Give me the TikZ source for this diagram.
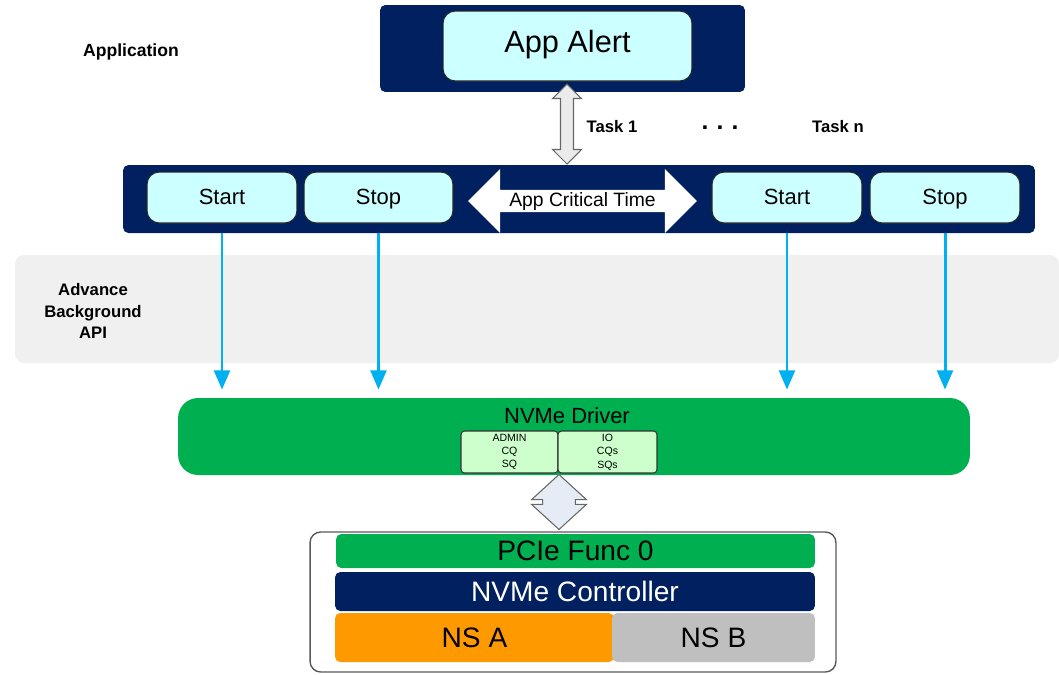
\documentclass[tikz,border=0pt]{standalone}
\usepackage{fontspec}
\setmainfont{Liberation Sans}
\setsansfont{Liberation Sans}
\usetikzlibrary{positioning, arrows.meta, shapes.arrows}
\definecolor{nvNavy}{HTML}{002060}
\definecolor{nvCyan}{HTML}{CCFFFF}
\definecolor{nvGreen}{HTML}{00B050}
\definecolor{nvLime}{HTML}{CCFFCC}
\definecolor{nvBlue}{HTML}{00B0F0}
\definecolor{nvOrange}{HTML}{FF9900}
\definecolor{nvGray}{HTML}{BFBFBF}
\definecolor{nvBand}{HTML}{F0F0F0}
\definecolor{nvPale}{HTML}{E6ECF5}
\tikzset{
  every node/.style={font=\sffamily},
  navyBox/.style={fill=nvNavy, rounded corners=3pt, inner sep=0pt},
  cyanBox/.style={draw=black!85, fill=nvCyan, line width=0.6pt, rounded corners=7pt,
                  inner sep=0pt, text height=1.55ex, text depth=0.1ex,
                  font=\sffamily\fontsize{12.5}{15}\selectfont},
  qBox/.style={draw=black!80, fill=nvLime, line width=0.6pt, rounded corners=2pt,
               minimum height=0.84cm, inner sep=0pt, align=center,
               font=\sffamily\fontsize{6}{7.6}\selectfont},
  layer/.style={rounded corners=3pt, inner sep=0pt, font=\sffamily\fontsize{16}{18}\selectfont},
  lbl/.style={font=\sffamily\bfseries\fontsize{9.5}{12}\selectfont, align=center},
  blueArr/.style={-{Triangle[width=9pt, length=11pt]}, line width=1.7pt, nvBlue, shorten >=0.16cm},
  grayArr/.style={double arrow, draw=black!60, fill=black!8, line width=0.6pt,
                  shape border rotate=90, inner ysep=0pt},
}

\begin{document}
\begin{tikzpicture}[x=0.02cm, y=-0.02cm]
  \useasboundingbox (0,0) rectangle (1059,674);
  % background API band
  \fill[nvBand, rounded corners=5pt] (15,255) rectangle (1059,363);
  \node[lbl] (api) at (93,311) {Advance\\Background\\API};
  \node[lbl, font=\sffamily\bfseries\fontsize{10}{12}\selectfont] (appl) at (131,52) {Application};
  % application
  \node[navyBox, minimum width=7.3cm, minimum height=1.74cm] (appbox) at (562.5,48.5) {};
  \node[cyanBox, minimum width=4.98cm, minimum height=1.4cm,
        font=\sffamily\fontsize{17.5}{20}\selectfont] (alert) at (567.5,46) {App Alert};
  % task bar
  \node[navyBox, minimum width=18.24cm, minimum height=1.36cm] (bar) at (579,199) {};
  \node[cyanBox, minimum width=3cm, minimum height=1.02cm] (start1) at (222,197.5) {Start};
  \node[cyanBox, minimum width=2.98cm, minimum height=1.02cm] (stop1) at (378.5,197.5) {Stop};
  \node[cyanBox, minimum width=3cm, minimum height=1.02cm] (start2) at (787,197.5) {Start};
  \node[cyanBox, minimum width=3cm, minimum height=1.02cm] (stop2) at (945,197.5) {Stop};
  \node[double arrow, fill=white, inner sep=1pt, minimum height=4.58cm, minimum width=1.24cm,
        double arrow head extend=0.42cm, font=\sffamily\fontsize{11}{12}\selectfont]
    (crit) at (582.5,201) {App Critical Time};
  % task link
  \node[grayArr, inner xsep=3.4pt, minimum height=1.6cm, minimum width=0.56cm,
        double arrow head extend=0.16cm] (tlink) at (567,124) {};
  \node[lbl, font=\sffamily\bfseries\fontsize{9.5}{12}\selectfont] (task1) at (612,127) {Task 1};
  \node[lbl, font=\sffamily\bfseries\fontsize{14}{14}\selectfont] (dots) at (720,128) {.\,\,.\,\,.};
  \node[lbl, font=\sffamily\bfseries\fontsize{9.5}{12}\selectfont] (taskn) at (838,127) {Task n};
  % driver
  \node[fill=nvGreen, rounded corners=0.4cm, minimum width=15.84cm, minimum height=1.54cm,
        inner sep=0pt] (driver) at (574,436.5) {};
  \node[font=\sffamily\fontsize{12.5}{14}\selectfont] (drvtxt) at (567,416) {NVMe Driver};
  \node[qBox, minimum width=1.94cm] (admq) at (509.5,452) {ADMIN\\CQ\\SQ};
  \node[qBox, minimum width=1.98cm] (ioq) at (607.5,452) {IO\\CQs\\SQs};
  % API calls
  \foreach \s in {start1, stop1, start2, stop2}
    \draw[blueArr] (\s |- bar.south) -- (\s |- driver.north);
  % device
  \node[draw=black!65, line width=0.8pt, rounded corners=6pt, fill=white,
        minimum width=10.52cm, minimum height=2.8cm] (dev) at (573,602) {};
  \node[grayArr, fill=nvPale, inner xsep=9pt, minimum height=1.1cm, minimum width=1.08cm,
        double arrow head extend=0.22cm, double arrow tip angle=95] (plink) at (559,502) {};
  \node[layer, fill=nvGreen, minimum width=9.58cm, minimum height=0.68cm] (pcie) at (575.5,551) {PCIe Func 0};
  \node[layer, fill=nvNavy, text=white, minimum width=9.6cm, minimum height=0.78cm] (ctrl) at (575,591.5) {NVMe Controller};
  \node[layer, fill=nvOrange, minimum width=5.58cm, minimum height=0.98cm] (nsa) at (474.5,637.5) {NS A};
  \node[layer, fill=nvGray, minimum width=4.06cm, minimum height=0.98cm] (nsb) at (713.5,637.5) {NS B};
\end{tikzpicture}
\end{document}
